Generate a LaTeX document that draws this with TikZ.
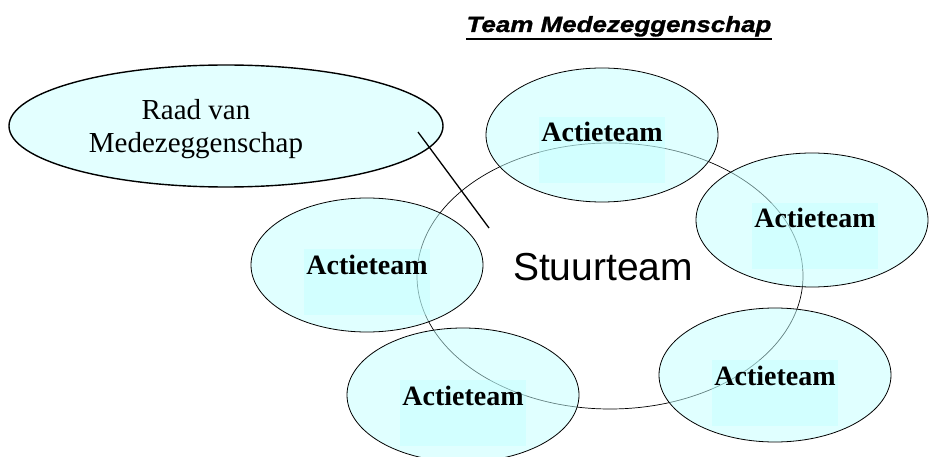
\documentclass[tikz,border=0pt]{standalone}
\usepackage{fontspec}
\setmainfont{Liberation Serif}
\newfontfamily\sansfont{Liberation Sans}
\newfontfamily\titlefont[FakeStretch=1.18, FakeBold=1.2]{Liberation Sans}
\usetikzlibrary{shapes.geometric}

\definecolor{teamfill}{HTML}{C2FFFF}
\definecolor{labelfill}{HTML}{B8FFFF}
\definecolor{councilfill}{HTML}{E3FFFF}

\tikzset{
	teamshape/.style={ellipse, draw=black, line width=0.8pt, fill=teamfill, fill opacity=0.5, draw opacity=1,
		minimum width=232pt, minimum height=134pt, inner sep=0pt},
	teamlabel/.style={anchor=base, fill=labelfill, fill opacity=0.35, text opacity=1, inner sep=0pt,
		minimum width=126pt, text height=25pt, text depth=41pt,
		font=\bfseries\fontsize{28}{30}\selectfont},
	councilshape/.style={ellipse, draw=black, line width=1.4pt, fill=councilfill,
		minimum width=434pt, minimum height=122pt, inner sep=0pt}
}

\begin{document}
\begin{tikzpicture}[x=1pt, y=-1pt]
	\useasboundingbox (0,0) rectangle (932,457);
	
	% title
	\node[anchor=base, inner sep=0pt, font=\titlefont\bfseries\itshape\fontsize{22}{26}\selectfont] (title) at (619,32) {Team Medezeggenschap};
	\draw[line width=2.2pt] ([yshift=-7pt]title.base west) -- ([yshift=-7pt]title.base east);
	
	% stuurteam
	\node[ellipse, draw=black, line width=0.7pt, minimum width=386pt, minimum height=266pt, inner sep=0pt] (stuur) at (610,276) {};
	\node[anchor=base, inner sep=0pt, font=\sansfont\fontsize{39}{44}\selectfont] (stuurtext) at (603,280) {Stuurteam};
	
	% actieteams
	\foreach \i/\cx/\cy/\lx/\ly in {1/602/135/602/142, 2/812/220/815/228, 3/367/265/367/274, 4/463/395/463/405, 5/775/375/775/385}
	{
		\node[teamshape] (team\i) at (\cx,\cy) {};
		\node[teamlabel] (label\i) at (\lx,\ly) {Actieteam};
	}
	
	% raad
	\node[councilshape] (raad) at (226,126) {};
	\node[align=center, inner sep=0pt, font=\fontsize{29}{33}\selectfont] (raadtext) at (196,129) {Raad van\\Medezeggenschap};
	
	\coordinate (link start) at (418,132);
	\coordinate (link end) at (489,228);
	\draw[line width=1.3pt] (link start) -- (link end);
\end{tikzpicture}
\end{document}
